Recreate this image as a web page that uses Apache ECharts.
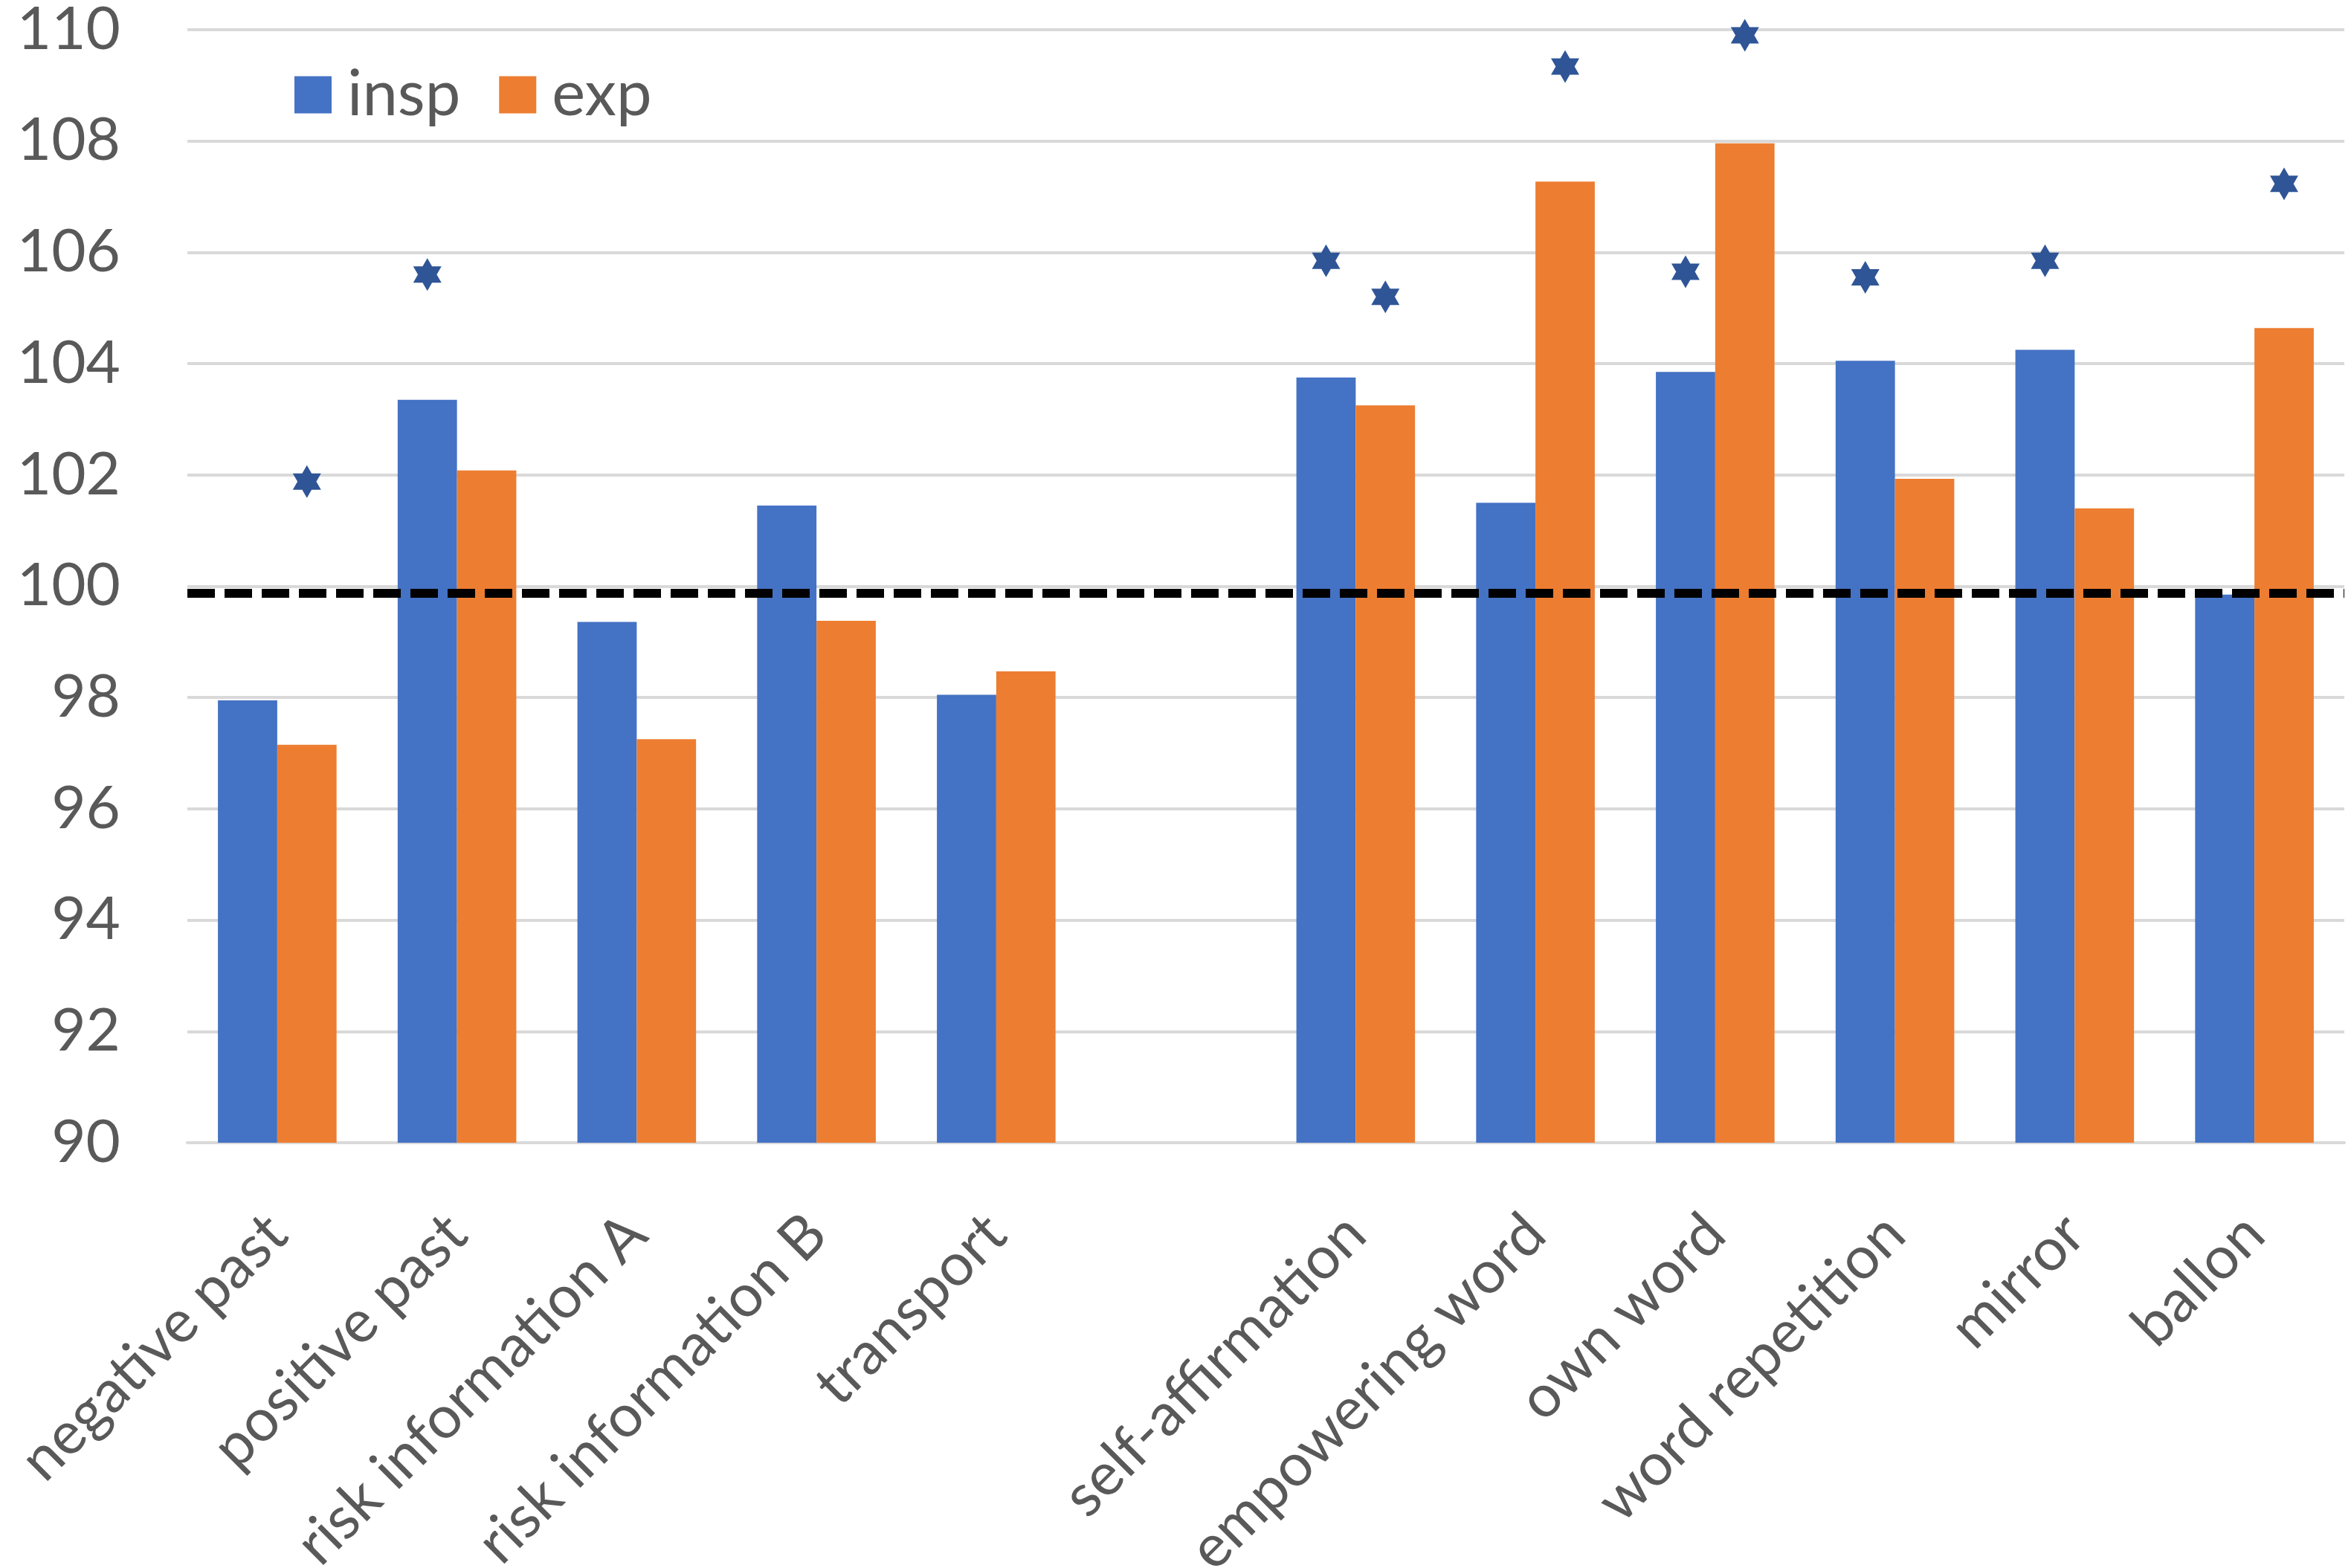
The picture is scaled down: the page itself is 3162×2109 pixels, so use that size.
<!DOCTYPE html>
<html>
<head>
<meta charset="utf-8">
<script src="https://cdn.jsdelivr.net/npm/echarts@6/dist/echarts.min.js"></script>
<style>
  html, body { margin: 0; padding: 0; background: #fff; }
  #chart { width: 3162px; height: 2109px; }
</style>
</head>
<body>
<div id="chart"></div>
<script>
// conditions on the x axis (the empty one is the gap between the two groups)
var categories = [
  'negative past', 'positive past', 'risk information A', 'risk information B', 'transport',
  '',
  'self-affirmation', 'empowering word', 'own word', 'word repetition', 'mirror', 'ballon'
];

var inspValues = [97.95, 103.35, 99.36, 101.45, 98.05, '-', 103.75, 101.5, 103.85, 104.05, 104.25, 99.85];
var expValues  = [97.15, 102.08, 97.25, 99.38, 98.47, '-', 103.25, 107.27, 107.96, 101.93, 101.4, 104.64];

// significance stars, drawn over the insp / exp bar they belong to
var inspStars = ['-', 105.6, '-', '-', '-', '-', 105.85, '-', 105.65, 105.55, 105.85, '-'];
var expStars  = [101.88, '-', '-', '-', '-', '-', 105.2, 109.34, 109.9, '-', '-', 107.23];

var referenceLine = 99.88;
var yTicks = { min: 90, max: 110, interval: 2 };

var hexagram = 'path://M0,-10L8.66,5L-8.66,5Z M0,10L-8.66,-5L8.66,-5Z';
var font = 'Lato, "Open Sans", sans-serif';

var chartDom = document.getElementById('chart');
var myChart = echarts.init(chartDom);
var option;

option = {
  backgroundColor: '#ffffff',
  animation: false,
  textStyle: { fontFamily: font },
  grid: {
    left: 252,
    right: 9,
    top: 40,
    bottom: 572,
    containLabel: false,
    outerBoundsMode: 'none'
  },
  legend: {
    data: ['insp', 'exp'],
    left: 391,
    top: 80,
    icon: 'rect',
    itemWidth: 50,
    itemHeight: 50,
    itemGap: 52,
    textStyle: {
      fontSize: 85,
      color: '#595959',
      fontFamily: font,
      padding: [0, 0, 0, 16]
    }
  },
  xAxis: {
    type: 'category',
    data: categories,
    axisLine: { lineStyle: { color: '#D9D9D9', width: 4 } },
    axisTick: { show: false },
    axisLabel: {
      interval: 0,
      rotate: 45,
      margin: 110,
      fontSize: 80,
      color: '#595959',
      fontFamily: font
    }
  },
  yAxis: {
    type: 'value',
    min: yTicks.min,
    max: yTicks.max,
    interval: yTicks.interval,
    axisLine: { show: false },
    axisTick: { show: false },
    axisLabel: {
      margin: 90,
      fontSize: 80,
      color: '#595959',
      fontFamily: font
    },
    splitLine: { lineStyle: { color: '#D9D9D9', width: 4 } }
  },
  series: [
    {
      name: 'insp',
      type: 'bar',
      data: inspValues,
      barGap: 0,
      barCategoryGap: '34%',
      itemStyle: { color: '#4472C4' }
    },
    {
      name: 'exp',
      type: 'bar',
      data: expValues,
      barGap: 0,
      barCategoryGap: '34%',
      itemStyle: { color: '#ED7D31' }
    },
    {
      name: 'insp stars',
      type: 'pictorialBar',
      data: inspStars,
      barGap: 0,
      barCategoryGap: '34%',
      symbol: hexagram,
      symbolSize: [38, 44],
      symbolPosition: 'end',
      symbolOffset: [0, '-50%'],
      itemStyle: { color: '#2F5597' },
      z: 4
    },
    {
      name: 'exp stars',
      type: 'pictorialBar',
      data: expStars,
      barGap: 0,
      barCategoryGap: '34%',
      symbol: hexagram,
      symbolSize: [38, 44],
      symbolPosition: 'end',
      symbolOffset: [0, '-50%'],
      itemStyle: { color: '#2F5597' },
      z: 4,
      markLine: {
        silent: true,
        symbol: ['none', 'none'],
        label: { show: false },
        lineStyle: { color: '#000000', width: 12, type: [37, 13] },
        data: [{ yAxis: referenceLine }]
      }
    }
  ]
};

myChart.setOption(option);
</script>
</body>
</html>
